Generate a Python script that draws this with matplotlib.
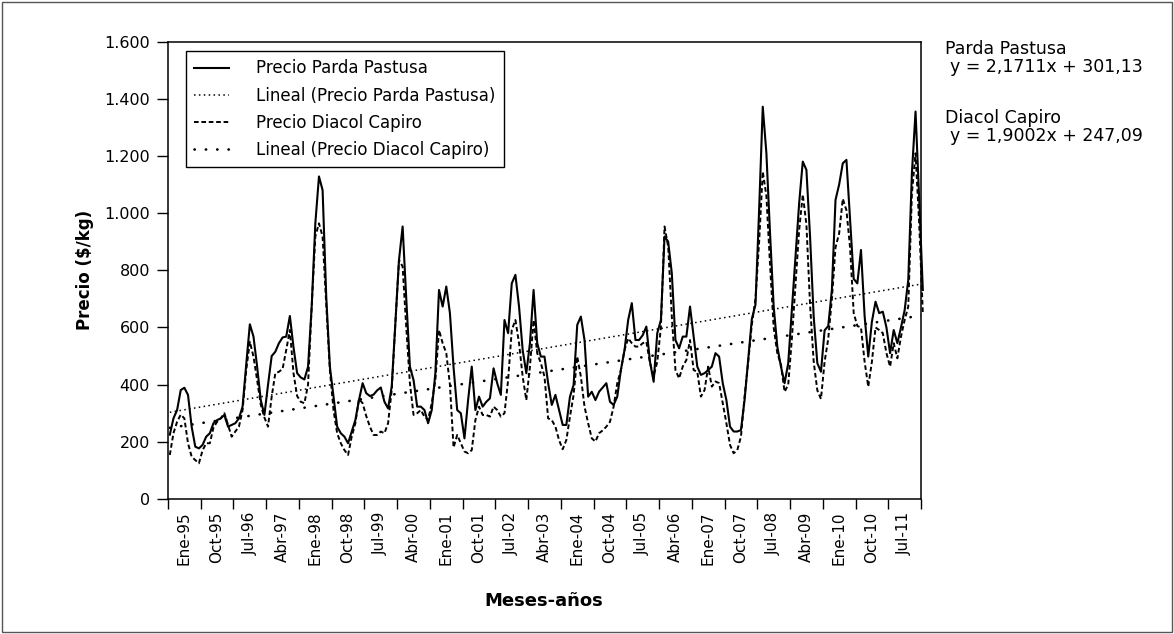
import numpy as np
import matplotlib.pyplot as plt
from matplotlib.patches import Rectangle
from matplotlib.ticker import FixedLocator, FuncFormatter

plt.rcParams['font.family'] = ['DejaVu Sans']

# Precio mensual ($/kg), Ene-95 .. Abr-12 (one row per year)
parda_pastusa = [
    225, 282, 311, 381, 389, 364, 253, 183, 177, 189, 218, 230,
    265, 276, 282, 294, 253, 259, 265, 282, 323, 470, 611, 568,
    463, 346, 294, 400, 500, 515, 545, 565, 568, 640, 531, 440,
    425, 418, 463, 673, 964, 1128, 1080, 708, 463, 358, 253, 230,
    218, 195, 235, 276, 346, 405, 370, 360, 365, 380, 390, 340,
    317, 393, 614, 836, 953, 700, 463, 416, 323, 323, 311, 265,
    311, 440, 731, 673, 743, 650, 460, 311, 300, 212, 346, 463,
    311, 358, 323, 340, 352, 457, 405, 364, 626, 580, 754, 784,
    673, 521, 440, 545, 731, 545, 498, 498, 405, 329, 364, 311,
    259, 259, 358, 399, 609, 638, 556, 358, 375, 346, 375, 390,
    405, 340, 329, 358, 451, 521, 626, 685, 556, 556, 573, 603,
    480, 410, 580, 626, 918, 900, 789, 556, 527, 568, 568, 673,
    568, 463, 434, 440, 451, 463, 510, 498, 405, 346, 253, 236,
    236, 241, 346, 490, 630, 680, 1012, 1372, 1209, 929, 673, 533,
    463, 405, 475, 661, 848, 1034, 1180, 1151, 918, 638, 475, 445,
    590, 605, 731, 1046, 1100, 1174, 1186, 980, 770, 754, 871, 640,
    498, 620, 690, 650, 655, 600, 510, 591, 545, 600, 660, 766,
    1140, 1355, 1050, 731,
]

diacol_capiro = [
    154, 230, 270, 295, 282, 195, 148, 136, 125, 170, 195, 195,
    250, 270, 282, 300, 259, 218, 236, 253, 311, 450, 550, 498,
    416, 330, 285, 253, 358, 440, 445, 455, 521, 591, 440, 360,
    340, 335, 400, 673, 918, 964, 918, 680, 451, 311, 230, 195,
    171, 154, 218, 265, 350, 335, 290, 253, 224, 224, 236, 230,
    265, 381, 614, 836, 813, 600, 405, 294, 300, 311, 288, 276,
    335, 416, 591, 545, 510, 400, 180, 224, 195, 166, 160, 171,
    276, 323, 294, 294, 288, 323, 311, 288, 300, 416, 591, 626,
    545, 428, 346, 463, 626, 510, 475, 428, 282, 276, 253, 206,
    174, 206, 288, 364, 498, 428, 323, 265, 212, 201, 230, 240,
    253, 270, 323, 405, 451, 521, 562, 545, 533, 533, 545, 550,
    475, 430, 480, 600, 953, 883, 638, 451, 422, 463, 486, 556,
    451, 445, 358, 381, 463, 393, 411, 405, 335, 265, 189, 160,
    171, 218, 358, 480, 610, 700, 900, 1145, 1060, 820, 600, 510,
    470, 375, 400, 560, 750, 940, 1065, 960, 680, 480, 380, 350,
    480, 560, 700, 880, 929, 1050, 1010, 880, 650, 605, 600, 480,
    393, 480, 600, 591, 580, 510, 463, 545, 492, 568, 626, 673,
    1069, 1209, 964, 650,
]

tick_labels = ["Ene-95", "Oct-95", "Jul-96", "Abr-97", "Ene-98", "Oct-98",
               "Jul-99", "Abr-00", "Ene-01", "Oct-01", "Jul-02", "Abr-03",
               "Ene-04", "Oct-04", "Jul-05", "Abr-06", "Ene-07", "Oct-07",
               "Jul-08", "Abr-09", "Ene-10", "Oct-10", "Jul-11"]
label_step = 9  # months between labels

# Excel linear trendlines (x = 1, 2, ...)
parda_slope, parda_intercept = 2.1711, 301.13
diacol_slope, diacol_intercept = 1.9002, 247.09

months = np.arange(len(parda_pastusa))
parda_fit = parda_slope * (months + 1) + parda_intercept
diacol_fit = diacol_slope * (months + 1) + diacol_intercept

W, H = 1174, 634
fig = plt.figure(figsize=(W / 100, H / 100), dpi=100)
ax = fig.add_axes([168 / W, 1 - 499 / H, (921 - 168) / W, (499 - 41.5) / H])

ax.plot(months, parda_pastusa, color='black', lw=1.5, clip_on=False,
        label='Precio Parda Pastusa', zorder=4)
ax.plot(months, parda_fit, color='black', lw=1.1, linestyle=(0, (1, 2.2)),
        label='Lineal (Precio Parda Pastusa)', zorder=3)
ax.plot(months, diacol_capiro, color='black', lw=1.4, linestyle=(0, (2.4, 1.4)),
        clip_on=False, label='Precio Diacol Capiro', zorder=4)
ax.plot(months, diacol_fit, color='black', lw=1.9, linestyle=(0, (0.1, 4.2)),
        dash_capstyle='round', label='Lineal (Precio Diacol Capiro)', zorder=3)

n_groups = len(tick_labels)
ax.set_xlim(-0.5, n_groups * label_step - 0.5)
ax.set_ylim(0, 1600)

# tick marks between groups, labels centred in each group
ax.xaxis.set_major_locator(FixedLocator([k * label_step - 0.5 for k in range(n_groups + 1)]))
ax.xaxis.set_minor_locator(FixedLocator([k * label_step + 4 for k in range(n_groups)]))
ax.set_xticklabels([], minor=False)
ax.set_xticklabels(tick_labels, minor=True, rotation=90, fontsize=11)
ax.tick_params(axis='x', which='major', direction='out', length=7, width=1)
ax.tick_params(axis='x', which='minor', length=0, pad=9)

ax.set_yticks(range(0, 1601, 200))
ax.yaxis.set_major_formatter(FuncFormatter(lambda v, p: f"{v:,.0f}".replace(",", ".")))
ax.tick_params(axis='y', direction='out', length=8, width=1, pad=5, labelsize=11.5)

for s in ax.spines.values():
    s.set_linewidth(1.1)

leg = ax.legend(loc='upper left', bbox_to_anchor=(0.024, 0.979), borderaxespad=0,
                fontsize=12, frameon=True, fancybox=False, edgecolor='black',
                framealpha=1, handlelength=2.1, handletextpad=1.6,
                labelspacing=0.55, borderpad=0.5)
leg.get_frame().set_linewidth(1.0)

fig.text(85 / W, 1 - 270 / H, 'Precio ($/kg)', rotation=90, fontsize=12,
         fontweight='bold', ha='center', va='center')
fig.text(544 / W, 1 - 601 / H, 'Meses-años', fontsize=13, fontweight='bold',
         ha='center', va='center')

# trendline equations
fig.text(945 / W, 1 - 49 / H, 'Parda Pastusa', fontsize=12.5, va='center')
fig.text(950 / W, 1 - 67 / H, 'y = 2,1711x + 301,13', fontsize=12.5, va='center')
fig.text(945 / W, 1 - 118 / H, 'Diacol Capiro', fontsize=12.5, va='center')
fig.text(950 / W, 1 - 136 / H, 'y = 1,9002x + 247,09', fontsize=12.5, va='center')

# outer frame of the figure
fig.patches.append(Rectangle((2 / W, 2 / H), 1 - 4 / W, 1 - 4 / H,
                             transform=fig.transFigure, fill=False,
                             edgecolor='#555555', lw=1))

fig.savefig('out.png', dpi=100)
